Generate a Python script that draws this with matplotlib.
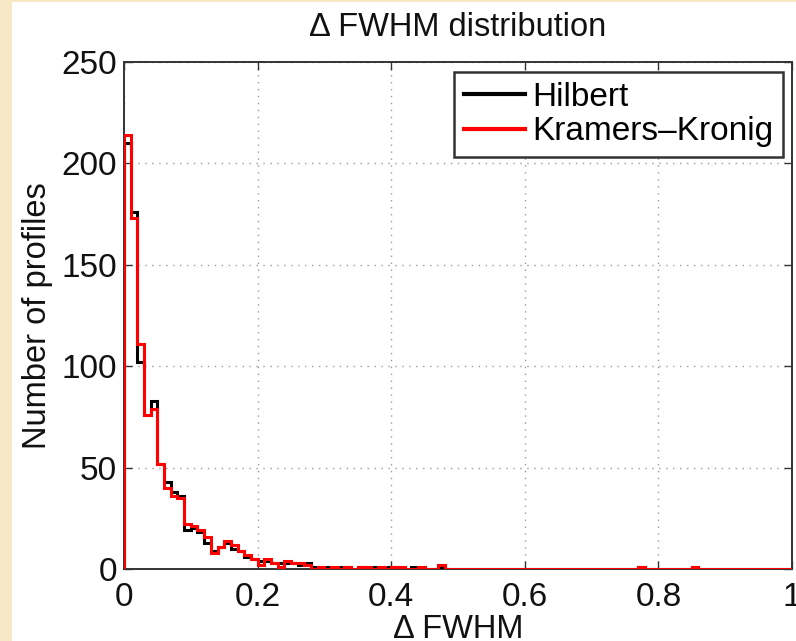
import numpy as np
import matplotlib
matplotlib.use("Agg")
import matplotlib.pyplot as plt
from matplotlib.patches import Rectangle

# Histogram counts, 100 bins of width 0.01 on [0, 1]
bin_edges = np.linspace(0.0, 1.0, 101)

hilbert = [210, 176, 102, 76, 83, 52, 43, 38, 36, 19,
           20, 18, 13, 9, 11, 13, 10, 9, 6, 5,
           4, 4, 3, 3, 3, 3, 2, 3, 1, 1,
           1, 0, 1, 1, 0, 1, 1, 1, 0, 1,
           1, 0, 0, 1, 0, 0, 0, 1, 0, 0,
           0, 0, 0, 0, 0, 0, 0, 0, 0, 0,
           0, 0, 0, 0, 0, 0, 0, 0, 0, 0,
           0, 0, 0, 0, 0, 0, 0, 1, 0, 0,
           0, 0, 0, 0, 0, 1, 0, 0, 0, 0,
           0, 0, 0, 0, 0, 0, 0, 0, 0, 0]

kramers_kronig = [214, 173, 111, 76, 79, 52, 40, 36, 35, 22,
                  21, 19, 16, 8, 11, 14, 12, 9, 7, 5,
                  2, 5, 3, 1, 4, 3, 3, 2, 0, 1,
                  0, 1, 0, 1, 0, 1, 1, 0, 1, 0,
                  1, 1, 0, 0, 1, 0, 0, 2, 0, 0,
                  0, 0, 0, 0, 0, 0, 0, 0, 0, 0,
                  0, 0, 0, 0, 0, 0, 0, 0, 0, 0,
                  0, 0, 0, 0, 0, 0, 0, 1, 0, 0,
                  0, 0, 0, 0, 0, 1, 0, 0, 0, 0,
                  0, 0, 0, 0, 0, 0, 0, 0, 0, 0]

x_ticks = [0, 0.2, 0.4, 0.6, 0.8, 1]
x_tick_labels = ["0", "0.2", "0.4", "0.6", "0.8", "1"]
y_ticks = [0, 50, 100, 150, 200, 250]

plt.rcParams['font.family'] = ['Liberation Sans', 'DejaVu Sans']

W, H = 796, 641
fig = plt.figure(figsize=(W / 100, H / 100), dpi=100)
fig.patch.set_facecolor('#f7e9c6')
fig.patches.append(Rectangle((12 / W, 0), 1 - 12 / W, (H - 2) / H,
                             transform=fig.transFigure, facecolor='white',
                             edgecolor='none', zorder=-10))

ax = fig.add_axes([124 / W, (H - 569) / H, 668 / W, 507 / H])
ax.set_facecolor('white')

ax.stairs(hilbert, bin_edges, color='black', linewidth=2.2, label='Hilbert', zorder=3)
ax.stairs(kramers_kronig, bin_edges, color='#ff0000', linewidth=2.2,
          label='Kramers\u2013Kronig', zorder=4)

ax.set_xlim(0, 1)
ax.set_ylim(0, 250)
ax.set_xticks(x_ticks)
ax.set_xticklabels(x_tick_labels)
ax.set_yticks(y_ticks)

ax.grid(True, linestyle=(0, (1, 4)), color='#9a9a9a', linewidth=1.0)
ax.set_axisbelow(True)

for s in ax.spines.values():
    s.set_color('#333333')
    s.set_linewidth(1.4)

ax.tick_params(direction='in', length=6, width=1.0, colors='#333333',
               top=True, right=True, labelsize=24, labelcolor='#111111')
ax.tick_params(axis='x', pad=9)
ax.tick_params(axis='y', pad=5)

ax.set_title('\u0394 FWHM distribution', fontsize=23.5, color='#111111', pad=19)
ax.set_xlabel('\u0394 FWHM', fontsize=23.5, color='#111111', labelpad=1)
ax.set_ylabel('Number of profiles', fontsize=23.5, color='#111111', labelpad=6)

leg = ax.legend(loc='upper right', bbox_to_anchor=(0.9865, 0.980),
                borderaxespad=0, fontsize=24, fancybox=False, framealpha=1,
                edgecolor='#333333', handlelength=1.85, handletextpad=0.2,
                borderpad=0.3, labelspacing=0.1)
leg.get_frame().set_linewidth(1.8)
for line in leg.get_lines():
    line.set_linewidth(3.0)

fig.savefig('out.png', dpi=100, facecolor=fig.get_facecolor())
